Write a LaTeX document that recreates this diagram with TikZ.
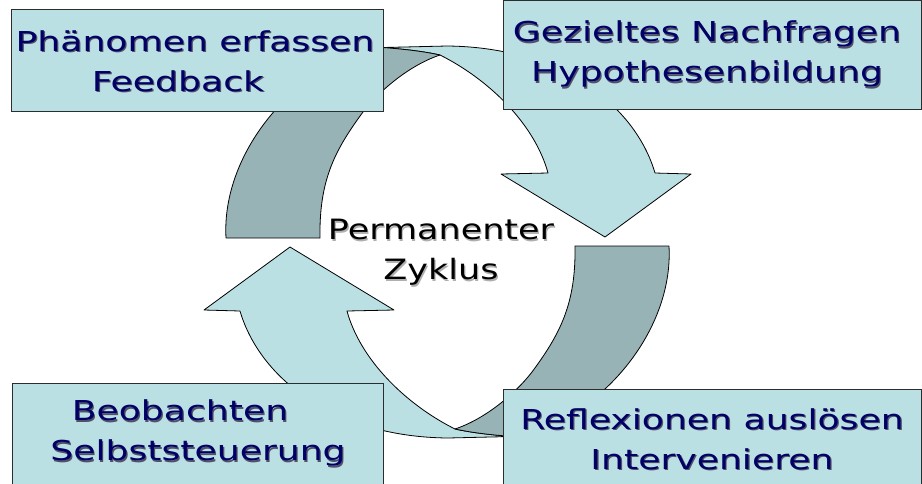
\documentclass[tikz,border=0pt]{standalone}
\usepackage{fontspec}
\newfontfamily\boxfont[FakeStretch=1.32]{DejaVu Sans}
\newfontfamily\cyclefont[FakeStretch=1.25]{DejaVu Sans}

\definecolor{frontface}{RGB}{187,224,227}
\definecolor{backface}{RGB}{151,179,182}
\definecolor{navytext}{RGB}{0,0,102}
\definecolor{navyshadow}{RGB}{80,80,105}
\definecolor{greyshadow}{RGB}{175,175,175}
\definecolor{boxedge}{RGB}{45,45,45}

% text with a small drop shadow below right; the phantom keeps line heights equal
\newcommand\shadowed[2]{\leavevmode\rlap{\raisebox{-1.2pt}{\kern1.2pt\textcolor{#1}{#2}}}#2\vphantom{lg}}

\tikzset{
  front/.style={fill=frontface, draw=black, line width=0.8pt, line join=round},
  back/.style={fill=backface, draw=black, line width=0.8pt, line join=round},
  % one twisting ribbon arrow: back face at the tail, front face with the head
  ribbon/.pic={
    \path[front] (-7.5,-187)
      .. controls (42.5,-162) and (87.5,-117) .. (100.5,-69)
      -- (53.5,-68) -- (157.5,-5) -- (243.5,-68) -- (207.5,-69)
      .. controls (187.5,-137) and (112.5,-195) .. (-0.5,-196)
      -- (-64.5,-194.5)
      .. controls (-45.5,-193) and (-25.5,-191) .. (-7.5,-187) -- cycle;
    \path[back] (-221.5,-4)
      .. controls (-226.5,-92) and (-147.5,-182) .. (-64.5,-194.5)
      .. controls (-45.5,-193) and (-25.5,-191) .. (-7.5,-187)
      .. controls (-37.5,-177) and (-67.5,-152) .. (-84.5,-130)
      .. controls (-112.5,-92) and (-128.5,-62) .. (-127.5,-4) -- cycle;
  }
}

\begin{document}
\begin{tikzpicture}[x=1pt, y=-1pt,
  box/.style={rectangle, draw=boxedge, line width=0.9pt, fill=frontface, inner sep=0pt},
  boxtext/.style={text=navytext, align=center, inner sep=0pt,
    font={\boxfont\fontsize{27.4}{40}\selectfont}},
  cycletext/.style={text=black, align=center, inner sep=0pt,
    font={\cyclefont\fontsize{28}{40}\selectfont}}]
  \useasboundingbox (0,0) rectangle (922,483);

  % the two ribbon arrows of the cycle
  \coordinate (hub) at (447.5,242);
  \pic (upper) at (hub) {ribbon};
  \pic[rotate=180] (lower) at (hub) {ribbon};

  % the four stage boxes
  \node[box, minimum width=372pt, minimum height=102pt] (b1) at (197,60) {};
  \node[box, minimum width=418.5pt, minimum height=108.5pt] (b2) at (712.25,54.75) {};
  \node[box, minimum width=371pt, minimum height=107pt] (b3) at (197.5,436.5) {};
  \node[box, minimum width=418.5pt, minimum height=101pt] (b4) at (712.25,439.5) {};

  \node[boxtext] (t1) at (195,63.5)
    {\shadowed{navyshadow}{Phänomen erfassen}\\\shadowed{navyshadow}{Feedback}\hspace*{34pt}};
  \node[boxtext] (t2) at (707,55)
    {\shadowed{navyshadow}{Gezieltes Nachfragen}\\\shadowed{navyshadow}{Hypothesenbildung}};
  \node[boxtext] (t3) at (198,434)
    {\shadowed{navyshadow}{Beobachten}\hspace*{36pt}\\\shadowed{navyshadow}{Selbststeuerung}};
  \node[boxtext] (t4) at (712,441.85)
    {\shadowed{navyshadow}{Reflexionen auslösen}\\\shadowed{navyshadow}{Intervenieren}};

  % label in the middle of the cycle
  \node[cycletext] (tc) at (441,252.7)
    {\shadowed{greyshadow}{Permanenter}\\\shadowed{greyshadow}{Zyklus}};
\end{tikzpicture}
\end{document}
